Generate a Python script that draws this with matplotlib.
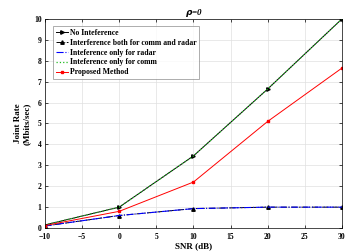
import matplotlib
matplotlib.use("Agg")
import matplotlib.pyplot as plt

# ----------------------------
# Data
# ----------------------------
snr = [-10, 0, 10, 20, 30]
no_interf = [0.15, 1.0, 3.45, 6.65, 10.0]
interf_both = [0.1, 0.6, 0.93, 1.0, 1.0]
interf_radar = [0.1, 0.6, 0.93, 1.0, 1.0]
interf_comm = [0.15, 1.0, 3.45, 6.65, 10.0]
proposed = [0.12, 0.8, 2.2, 5.1, 7.65]

plt.rcParams['font.family'] = ['Liberation Serif', 'DejaVu Serif']
plt.rcParams['font.weight'] = 'bold'

fig = plt.figure(figsize=(3.54, 2.52), dpi=100)
ax = fig.add_axes([0.127, 0.095, 0.839, 0.83])

ax.plot(snr, no_interf, color='black', lw=0.7, marker='>', ms=2.5, label='No Inteference')
ax.plot(snr, interf_both, color='black', lw=0.7, ls='-.', marker='^', ms=2.5,
        label='Interference both for comm and radar')
ax.plot(snr, interf_radar, color='blue', lw=0.8, ls='-.', label='Inteference only for radar')
ax.plot(snr, interf_comm, color='#22bb22', lw=0.9, ls=':', label='Inteference only for comm')
ax.plot(snr, proposed, color='red', lw=0.7, marker='s', ms=2, label='Proposed Method')

ax.set_xlim(-10, 30)
ax.set_ylim(0, 10)
ax.set_xticks(range(-10, 31, 5))
ax.set_yticks(range(0, 11))
ax.tick_params(labelsize=5.5, length=2, width=0.5, direction='in', top=True, right=True)
ax.tick_params(axis='x', pad=3.5)
ax.tick_params(axis='y', pad=2.5)
ax.grid(True, color='#e0e0e0', lw=0.5)
for s in ax.spines.values():
    s.set_linewidth(0.5)

ax.set_xlabel('SNR (dB)', fontsize=6.5, fontweight='bold', labelpad=1)
ax.set_ylabel('Joint Rate\n(Mbits/sec)', fontsize=6.5, fontweight='bold', labelpad=2)
ax.set_title(r'$\rho$=0', fontsize=6.5, fontweight='bold', style='italic', pad=3)

leg = ax.legend(loc='upper left', fontsize=5.6, handlelength=1.5, handletextpad=0.3,
                borderpad=0.35, labelspacing=0.25, fancybox=False, edgecolor='#888888',
                bbox_to_anchor=(0.015, 0.985))
leg.get_frame().set_linewidth(0.6)

fig.savefig('out.png', dpi=100)
